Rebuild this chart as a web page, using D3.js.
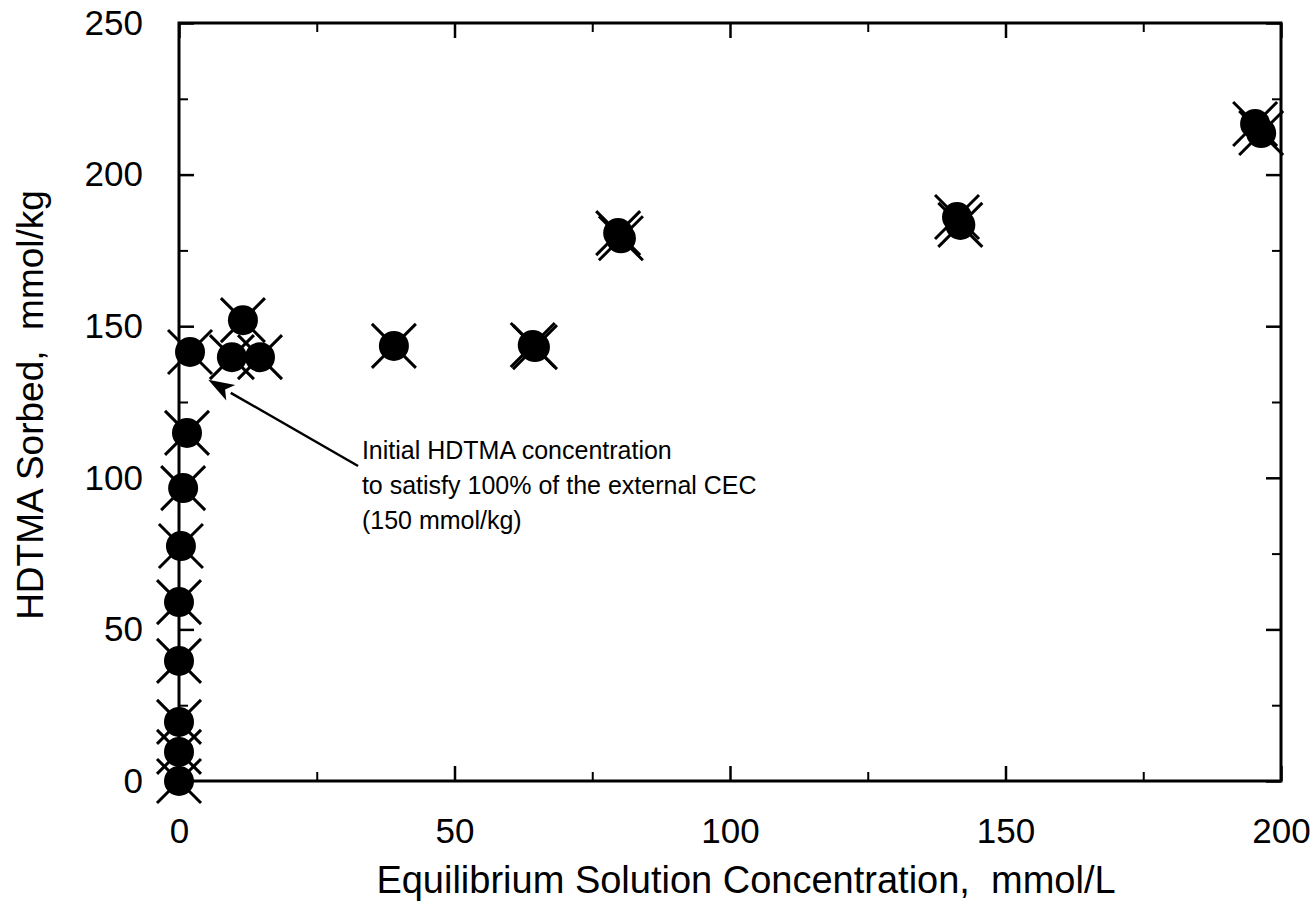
<!DOCTYPE html>
<html>
<head>
<meta charset="utf-8">
<script src="https://cdn.jsdelivr.net/npm/d3@7"></script>
<style>
  html, body { margin: 0; padding: 0; background: #fff; }
  svg { display: block; }
  text { font-family: "Liberation Sans", Arial, Helvetica, sans-serif; fill: #000; }
</style>
</head>
<body>
<svg id="chart" width="1314" height="903"></svg>
<script>
// HDTMA sorption isotherm: equilibrium solution concentration (mmol/L)
// versus amount sorbed (mmol/kg). Replicate measurements are kept as
// separate points, which is why some markers appear doubled.
const concentration = [0, 0, 0, 0, 0, 0.35, 0.75, 1.45, 2.0, 9.6, 11.6, 14.7,
                       39.0, 64.2, 64.6, 79.7, 80.2, 141.2, 141.8, 195.3, 196.4];
const sorbed = [0, 9.6, 19.5, 39.6, 59.0, 77.5, 96.6, 114.8, 141.5, 139.8, 152.0, 139.8,
                143.5, 143.8, 143.1, 180.7, 179.0, 186.0, 183.4, 216.7, 213.7];

const xMajorTicks = [0, 50, 100, 150, 200];
const xMinorTicks = [25, 75, 125, 175];
const yMajorTicks = [0, 50, 100, 150, 200, 250];
const yMinorTicks = [25, 75, 125, 175, 225];

const xTitle = "Equilibrium Solution Concentration,  mmol/L";
const yTitle = "HDTMA Sorbed,  mmol/kg";
const noteLines = ["Initial HDTMA concentration",
                   "to satisfy 100% of the external CEC",
                   "(150 mmol/kg)"];
// arrow from the note toward the 150 mmol/kg loading near the origin
const arrowFrom = [32.5, 103.9];
const arrowTo = [5.3, 132.3];
const notePos = [33.2, 106.3];

const svg = d3.select("#chart");
const plot = { left: 179, right: 1281, top: 23, bottom: 781 };

const x = d3.scaleLinear().domain([0, 200]).range([plot.left, plot.right]);
const y = d3.scaleLinear().domain([0, 250]).range([plot.bottom, plot.top]);

const fontTick = 35;
const major = 15, minor = 9;

function styleAxis(g, width) {
  g.select(".domain").remove();
  g.selectAll(".tick line").attr("stroke", "#000").attr("stroke-width", width);
}

// bottom axis with labels
const gxb = svg.append("g").attr("transform", `translate(0,${plot.bottom})`)
  .call(d3.axisBottom(x).tickValues(xMajorTicks).tickSizeInner(-major).tickSizeOuter(0)
        .tickPadding(37).tickFormat(d3.format("d")));
styleAxis(gxb, 2.5);
gxb.selectAll(".tick text").attr("font-size", fontTick)
  .style("font-family", '"Liberation Sans", Arial, sans-serif').attr("fill", "#000");
const gxbm = svg.append("g").attr("transform", `translate(0,${plot.bottom})`)
  .call(d3.axisBottom(x).tickValues(xMinorTicks).tickSizeInner(-minor).tickSizeOuter(0).tickFormat(""));
styleAxis(gxbm, 2);

// top axis, ticks only
const gxt = svg.append("g").attr("transform", `translate(0,${plot.top})`)
  .call(d3.axisTop(x).tickValues(xMajorTicks).tickSizeInner(-major).tickSizeOuter(0).tickFormat(""));
styleAxis(gxt, 2.5);
const gxtm = svg.append("g").attr("transform", `translate(0,${plot.top})`)
  .call(d3.axisTop(x).tickValues(xMinorTicks).tickSizeInner(-minor).tickSizeOuter(0).tickFormat(""));
styleAxis(gxtm, 2);

// left axis with labels
const gyl = svg.append("g").attr("transform", `translate(${plot.left},0)`)
  .call(d3.axisLeft(y).tickValues(yMajorTicks).tickSizeInner(-major).tickSizeOuter(0)
        .tickPadding(36).tickFormat(d3.format("d")));
styleAxis(gyl, 2.5);
gyl.selectAll(".tick text").attr("font-size", fontTick)
  .style("font-family", '"Liberation Sans", Arial, sans-serif').attr("fill", "#000");
const gylm = svg.append("g").attr("transform", `translate(${plot.left},0)`)
  .call(d3.axisLeft(y).tickValues(yMinorTicks).tickSizeInner(-minor).tickSizeOuter(0).tickFormat(""));
styleAxis(gylm, 2);

// right axis, ticks only
const gyr = svg.append("g").attr("transform", `translate(${plot.right},0)`)
  .call(d3.axisRight(y).tickValues(yMajorTicks).tickSizeInner(-major).tickSizeOuter(0).tickFormat(""));
styleAxis(gyr, 2.5);
const gyrm = svg.append("g").attr("transform", `translate(${plot.right},0)`)
  .call(d3.axisRight(y).tickValues(yMinorTicks).tickSizeInner(-minor).tickSizeOuter(0).tickFormat(""));
styleAxis(gyrm, 2);

// plot frame
svg.append("rect")
  .attr("x", plot.left).attr("y", plot.top)
  .attr("width", plot.right - plot.left).attr("height", plot.bottom - plot.top)
  .attr("fill", "none").attr("stroke", "#000").attr("stroke-width", 3);

// axis titles
svg.append("text")
  .attr("x", 746).attr("y", 893)
  .attr("text-anchor", "middle").attr("font-size", 38)
  .style("white-space", "pre")
  .text(xTitle);
svg.append("text")
  .attr("transform", `translate(43,${(plot.top + plot.bottom) / 2 + 3}) rotate(-90)`)
  .attr("text-anchor", "middle").attr("font-size", 37)
  .style("white-space", "pre")
  .text(yTitle);

// annotation arrow
const ax0 = x(arrowFrom[0]), ay0 = y(arrowFrom[1]);
const ax1 = x(arrowTo[0]), ay1 = y(arrowTo[1]);
const ang = Math.atan2(ay1 - ay0, ax1 - ax0);
const headLen = 26, headHalf = 9;
const bx = ax1 - headLen * Math.cos(ang), by = ay1 - headLen * Math.sin(ang);
svg.append("line")
  .attr("x1", ax0).attr("y1", ay0).attr("x2", bx).attr("y2", by)
  .attr("stroke", "#000").attr("stroke-width", 2.5);
svg.append("path")
  .attr("d", `M${ax1},${ay1}
              L${bx - headHalf * Math.sin(ang)},${by + headHalf * Math.cos(ang)}
              L${ax1 - 0.75 * headLen * Math.cos(ang)},${ay1 - 0.75 * headLen * Math.sin(ang)}
              L${bx + headHalf * Math.sin(ang)},${by - headHalf * Math.cos(ang)}Z`)
  .attr("fill", "#000");

// annotation text
const note = svg.append("text")
  .attr("x", x(notePos[0])).attr("y", y(notePos[1]))
  .attr("font-size", 25);
noteLines.forEach((line, i) => {
  note.append("tspan").attr("x", x(notePos[0])).attr("dy", i === 0 ? 0 : 35).text(line);
});

// markers: diagonal cross behind a filled circle
const points = concentration.map((c, i) => ({ c, s: sorbed[i] }));
const crossR = 22;
svg.append("g").selectAll("path.cross").data(points).join("path")
  .attr("class", "cross")
  .attr("d", d => {
    const px = x(d.c), py = y(d.s);
    return `M${px - crossR},${py - crossR}L${px + crossR},${py + crossR}` +
           `M${px - crossR},${py + crossR}L${px + crossR},${py - crossR}`;
  })
  .attr("stroke", "#000").attr("stroke-width", 3).attr("fill", "none");
svg.append("g").selectAll("circle").data(points).join("circle")
  .attr("cx", d => x(d.c)).attr("cy", d => y(d.s)).attr("r", 15)
  .attr("fill", "#000");
</script>
</body>
</html>
